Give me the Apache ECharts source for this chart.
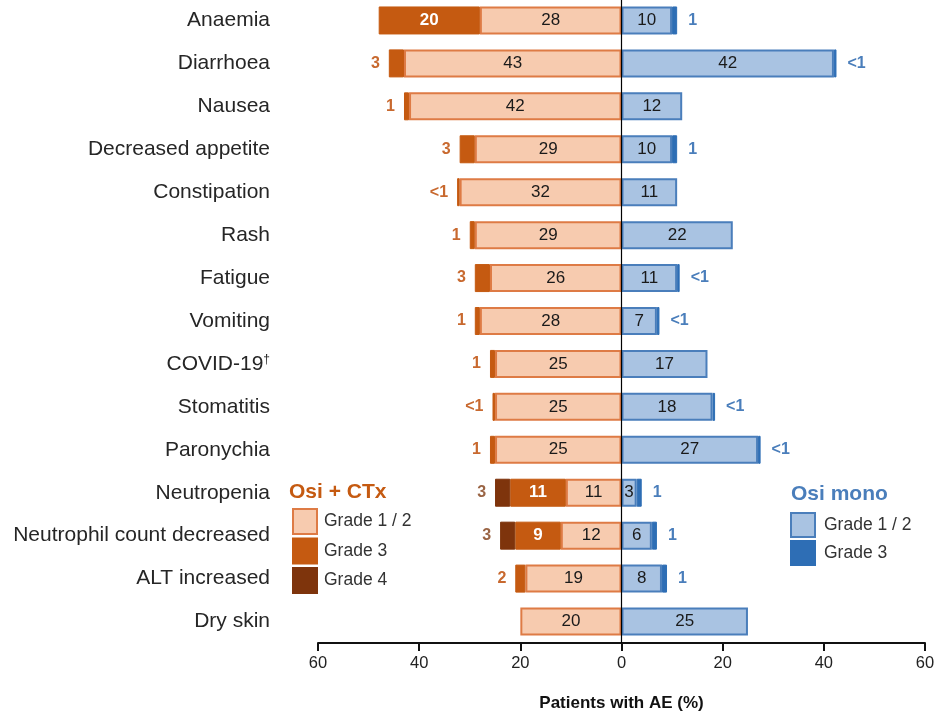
<!DOCTYPE html>
<html>
<head>
<meta charset="utf-8">
<script src="https://cdn.jsdelivr.net/npm/echarts@6/dist/echarts.min.js"></script>
<style>
  html, body { margin: 0; padding: 0; background: #fff; }
  #aeChart { width: 936px; height: 714px; }
</style>
</head>
<body>
<div id="aeChart"></div>
<script>
  // adverse events, top to bottom
  var categories = ['Anaemia', 'Diarrhoea', 'Nausea', 'Decreased appetite', 'Constipation', 'Rash', 'Fatigue',
    'Vomiting', 'COVID-19†', 'Stomatitis', 'Paronychia', 'Neutropenia', 'Neutrophil count decreased',
    'ALT increased', 'Dry skin'];

  // Osi + CTx (drawn to the left), 0.5 stands for "<1"
  var ctxGrade12 = [28, 43, 42, 29, 32, 29, 26, 28, 25, 25, 25, 11, 12, 19, 20];
  var ctxGrade3 = [20, 3, 1, 3, 0.5, 1, 3, 1, 1, 0.5, 1, 11, 9, 2, null];
  var ctxGrade4 = [null, null, null, null, null, null, null, null, null, null, null, 3, 3, null, null];

  // Osi mono (drawn to the right)
  var monoGrade12 = [10, 42, 12, 10, 11, 22, 11, 7, 17, 18, 27, 3, 6, 8, 25];
  var monoGrade3 = [1, 0.5, null, 1, null, null, 0.5, 0.5, null, 0.5, 0.5, 1, 1, 1, null];

  var xTicks = { min: -60, max: 60, interval: 20 };

  var FONT = '"Liberation Sans", Arial, sans-serif';
  var ORANGE_LIGHT = '#F7CBAF';
  var ORANGE_BORDER = '#DE7B45';
  var ORANGE = '#C55A11';
  var BROWN = '#7E340C';
  var BLUE_LIGHT = '#A9C3E2';
  var BLUE_BORDER = '#4A7EBB';
  var BLUE = '#2E6EB5';

  function fmt(v) {
    return v < 1 ? '<1' : String(v);
  }

  // bar items: wide segments get the value inside, small outer ones next to the bar end
  function buildItems(values, side, insideColor, insideBold, outsideColor, outer) {
    return values.map(function (v, i) {
      if (v === null) {
        return null;
      }
      var item = { value: side === 'left' ? -v : v };
      if (v >= 5 || (v >= 3 && !insideBold)) {
        item.label = {
          show: true, position: 'inside', formatter: fmt(v),
          color: insideColor, fontWeight: insideBold ? 'bold' : 'normal'
        };
      } else if (outer(i)) {
        item.label = {
          show: true, position: side, distance: side === 'left' ? 9 : 11, formatter: fmt(v),
          color: outsideColor, fontWeight: 'bold', fontSize: 16
        };
      } else {
        item.label = { show: false };
      }
      return item;
    });
  }

  var always = function () { return true; };
  var never = function () { return false; };
  var noG4 = function (i) { return ctxGrade4[i] === null; };

  var myChart = echarts.init(document.getElementById('aeChart'));
  myChart.setOption({
    animation: false,
    textStyle: { fontFamily: FONT },
    title: [
      {
        text: 'Osi + CTx', left: 289, top: 482, padding: 0,
        textStyle: { fontFamily: FONT, fontSize: 21, fontWeight: 'bold', color: ORANGE }
      },
      {
        text: 'Osi mono', left: 791, top: 484, padding: 0,
        textStyle: { fontFamily: FONT, fontSize: 21, fontWeight: 'bold', color: BLUE_BORDER }
      }
    ],
    legend: [
      {
        orient: 'vertical', left: 292, top: 508, padding: 0,
        itemWidth: 24, itemHeight: 25, itemGap: 2.5, icon: 'rect', selectedMode: false,
        data: ['ctx Grade 1 / 2', 'ctx Grade 3', 'ctx Grade 4'],
        formatter: function (name) { return name.replace('ctx ', ''); },
        textStyle: { fontFamily: FONT, fontSize: 17.5, color: '#333', padding: [0, 0, 0, 2] }
      },
      {
        orient: 'vertical', left: 790, top: 512, padding: 0,
        itemWidth: 24, itemHeight: 24, itemGap: 2, icon: 'rect', selectedMode: false,
        data: ['mono Grade 1 / 2', 'mono Grade 3'],
        formatter: function (name) { return name.replace('mono ', ''); },
        textStyle: { fontFamily: FONT, fontSize: 17.5, color: '#333', padding: [0, 0, 0, 4] }
      }
    ],
    grid: { left: 318, right: 11, top: -1, bottom: 71, containLabel: false, outerBoundsMode: 'none' },
    xAxis: {
      type: 'value',
      min: xTicks.min,
      max: xTicks.max,
      interval: xTicks.interval,
      name: 'Patients with AE (%)',
      nameLocation: 'middle',
      nameGap: 52,
      nameTextStyle: { fontFamily: FONT, fontSize: 17, fontWeight: 'bold', color: '#111' },
      axisLine: { show: true, onZero: false, lineStyle: { color: '#111', width: 2 } },
      axisTick: { show: true, length: 8, lineStyle: { color: '#111', width: 2 } },
      axisLabel: {
        fontFamily: FONT, fontSize: 16.5, color: '#222', margin: 12,
        formatter: function (v) { return String(Math.abs(v)); }
      },
      splitLine: { show: false }
    },
    yAxis: {
      type: 'category',
      inverse: true,
      data: categories,
      axisLine: { show: false },
      axisTick: { show: false },
      axisLabel: {
        fontFamily: FONT, fontSize: 21, color: '#262626', margin: 48,
        formatter: function (v) { return v.replace('†', '{sup|†}'); },
        rich: {
          sup: { fontFamily: FONT, fontSize: 12, color: '#262626', verticalAlign: 'top', padding: [0, 0, 9, 0] }
        }
      }
    },
    series: [
      {
        name: 'ctx Grade 1 / 2',
        type: 'bar',
        stack: 'ae',
        barWidth: 28,
        data: buildItems(ctxGrade12, 'left', '#1a1a1a', false, ORANGE, never),
        itemStyle: { color: ORANGE_LIGHT, borderColor: ORANGE_BORDER, borderWidth: 2 },
        label: { fontFamily: FONT, fontSize: 17 },
        markLine: {
          silent: true,
          symbol: 'none',
          label: { show: false },
          lineStyle: { color: '#000', width: 1.2, type: 'solid' },
          data: [{ xAxis: 0 }]
        }
      },
      {
        name: 'ctx Grade 3',
        type: 'bar',
        stack: 'ae',
        barWidth: 28,
        data: buildItems(ctxGrade3, 'left', '#fff', true, '#C8692F', noG4),
        itemStyle: { color: ORANGE, borderColor: ORANGE, borderWidth: 1 },
        label: { fontFamily: FONT, fontSize: 17 }
      },
      {
        name: 'ctx Grade 4',
        type: 'bar',
        stack: 'ae',
        barWidth: 28,
        data: buildItems(ctxGrade4, 'left', '#fff', true, '#9A6444', always),
        itemStyle: { color: BROWN, borderColor: BROWN, borderWidth: 1 },
        label: { fontFamily: FONT, fontSize: 17 }
      },
      {
        name: 'mono Grade 1 / 2',
        type: 'bar',
        stack: 'ae',
        barWidth: 28,
        data: buildItems(monoGrade12, 'right', '#1a1a1a', false, '#1a1a1a', never),
        itemStyle: { color: BLUE_LIGHT, borderColor: BLUE_BORDER, borderWidth: 2 },
        label: { fontFamily: FONT, fontSize: 17 }
      },
      {
        name: 'mono Grade 3',
        type: 'bar',
        stack: 'ae',
        barWidth: 28,
        data: buildItems(monoGrade3, 'right', '#fff', true, BLUE_BORDER, always),
        itemStyle: { color: BLUE, borderColor: BLUE, borderWidth: 1 },
        label: { fontFamily: FONT, fontSize: 17 }
      }
    ]
  });
</script>
</body>
</html>
